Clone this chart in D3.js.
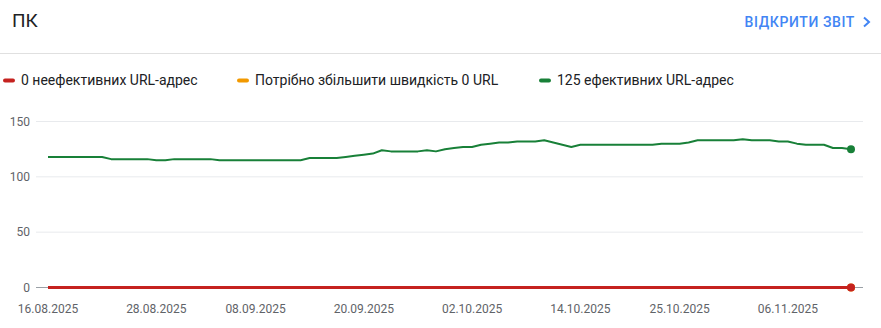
<!DOCTYPE html>
<html>
<head>
<meta charset="utf-8">
<script src="https://cdn.jsdelivr.net/npm/d3@7"></script>
<style>
    body { margin: 0; background: #fff; font-family: Roboto, Arial, sans-serif; }
</style>
</head>
<body>
<svg id="chart"></svg>
<script>
// Define width and height
const width = 881;
const height = 328;

// Data
const startDate = new Date(2025, 7, 16);
const poorValues = Array(90).fill(0);
const needsImprovementValues = Array(90).fill(0);
const goodValues = [
    118, 118, 118, 118, 118, 118, 118, 116, 116, 116,
    116, 116, 115, 115, 116, 116, 116, 116, 116, 115,
    115, 115, 115, 115, 115, 115, 115, 115, 115, 117,
    117, 117, 117, 118, 119, 120, 121, 124, 123, 123,
    123, 123, 124, 123, 125, 126, 127, 127, 129, 130,
    131, 131, 132, 132, 132, 133, 131, 129, 127, 129,
    129, 129, 129, 129, 129, 129, 129, 129, 130, 130,
    130, 131, 133, 133, 133, 133, 133, 134, 133, 133,
    133, 132, 132, 130, 129, 129, 129, 126, 126, 125
];
const dates = goodValues.map((d, i) => d3.timeDay.offset(startDate, i));
const xTickLabels = ["16.08.2025", "28.08.2025", "08.09.2025", "20.09.2025",
    "02.10.2025", "14.10.2025", "25.10.2025", "06.11.2025"];
const yTicks = [0, 50, 100, 150];

const legendItems = [
    { label: "0 неефективних URL-адрес", color: "#c5221f", x: 3 },
    { label: "Потрібно збільшити швидкість 0 URL", color: "#f29900", x: 237 },
    { label: "125 ефективних URL-адрес", color: "#188038", x: 539 }
];

const parseLabel = d3.timeParse("%d.%m.%Y");

// Create SVG element
const svg = d3.select("#chart")
    .attr("width", width)
    .attr("height", height);

// Header
svg.append("text")
    .attr("x", 12)
    .attr("y", 27)
    .style("font-size", "19px")
    .style("fill", "#202124")
    .text("ПК");

svg.append("text")
    .attr("x", 855)
    .attr("y", 27)
    .attr("text-anchor", "end")
    .style("font-size", "14px")
    .style("font-weight", 500)
    .style("letter-spacing", "0.6px")
    .style("fill", "#4285f4")
    .text("ВІДКРИТИ ЗВІТ");

svg.append("path")
    .attr("d", "M864,17.5L869,22L864,26.5")
    .attr("fill", "none")
    .attr("stroke", "#4285f4")
    .attr("stroke-width", 2);

svg.append("line")
    .attr("x1", 0).attr("x2", width)
    .attr("y1", 53.5).attr("y2", 53.5)
    .attr("stroke", "#e0e0e0");

// Legend
const legend = svg.selectAll(".legend")
    .data(legendItems)
    .enter().append("g")
    .attr("class", "legend")
    .attr("transform", d => `translate(${d.x},80)`);

legend.append("rect")
    .attr("x", 0).attr("y", -1.5)
    .attr("width", 12).attr("height", 4)
    .attr("rx", 2)
    .attr("fill", d => d.color);

legend.append("text")
    .attr("x", 18)
    .attr("y", 5)
    .style("font-size", "14px")
    .style("fill", "#202124")
    .text(d => d.label);

// Scales
const x = d3.scaleTime()
    .domain(d3.extent(dates))
    .range([48, 851]);

const y = d3.scaleLinear()
    .domain([0, 150])
    .range([287.5, 121.5]);

// Grid lines
svg.selectAll(".grid")
    .data(yTicks.filter(d => d > 0))
    .enter().append("line")
    .attr("x1", 36).attr("x2", 863)
    .attr("y1", d => y(d)).attr("y2", d => y(d))
    .attr("stroke", "#e8eaed");

svg.append("line")
    .attr("x1", 36).attr("x2", 863)
    .attr("y1", y(0)).attr("y2", y(0))
    .attr("stroke", "#9aa0a6");

// Y labels
svg.selectAll(".ylabel")
    .data(yTicks)
    .enter().append("text")
    .attr("x", 30)
    .attr("y", d => y(d))
    .attr("dy", "0.35em")
    .attr("text-anchor", "end")
    .style("font-size", "12px")
    .style("fill", "#5f6368")
    .text(d => d);

// X labels
svg.selectAll(".xlabel")
    .data(xTickLabels)
    .enter().append("text")
    .attr("x", d => x(parseLabel(d)))
    .attr("y", 313)
    .attr("text-anchor", "middle")
    .style("font-size", "12px")
    .style("fill", "#5f6368")
    .text(d => d);

// Lines
const line = d3.line()
    .x((d, i) => x(dates[i]))
    .y(d => y(d));

const series = [
    { values: goodValues, color: "#188038", width: 2 },
    { values: needsImprovementValues, color: "#f29900", width: 3 },
    { values: poorValues, color: "#c5221f", width: 3 }
];

series.forEach(s => {
    svg.append("path")
        .datum(s.values)
        .attr("fill", "none")
        .attr("stroke", s.color)
        .attr("stroke-width", s.width)
        .attr("stroke-linejoin", "round")
        .attr("d", line);

    svg.append("circle")
        .attr("cx", x(dates[dates.length - 1]))
        .attr("cy", y(s.values[s.values.length - 1]))
        .attr("r", 4)
        .attr("fill", s.color);
});
</script>
</body>
</html>
